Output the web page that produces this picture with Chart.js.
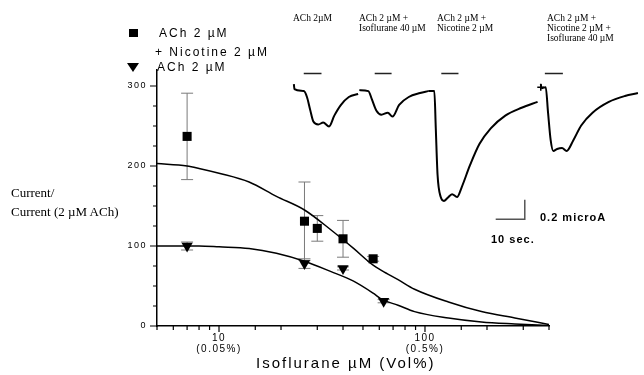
<!DOCTYPE html>
<html>
<head>
<meta charset="utf-8">
<script src="https://cdn.jsdelivr.net/npm/chart.js@4.4.1/dist/chart.umd.min.js"></script>
<style>
    body { margin: 0; background: #fff; }
    #wrap { position: relative; width: 644px; height: 375px; overflow: hidden; font-family: Arial, "Liberation Sans", sans-serif; }
    canvas { position: absolute; left: 0; top: 0; }
    #traces { left: 284px; top: 65px; }
    .lbl { position: absolute; white-space: nowrap; color: #000; }
    .serif { font-family: "Liberation Serif", "Times New Roman", serif; }
    .legend { font-size: 12px; line-height: 14px; letter-spacing: 2px; }
    .trace-lbl { font-size: 9.5px; line-height: 10px; }
    .bar-lbl { font-size: 11px; font-weight: bold; line-height: 12px; letter-spacing: 1px; }
    .sq { position: absolute; left: 129px; top: 29px; width: 9px; height: 8px; background: #000; }
    .tri { position: absolute; left: 127px; top: 63px; width: 0; height: 0;
           border-left: 6px solid transparent; border-right: 6px solid transparent; border-top: 9px solid #000; }
</style>
</head>
<body>
<div id="wrap">
    <canvas id="main" width="644" height="375"></canvas>
    <canvas id="traces" width="360" height="168"></canvas>

    <!-- legend -->
    <div class="sq"></div>
    <div class="lbl legend" style="left:159px; top:26px;">ACh 2 µM</div>
    <div class="lbl legend" style="left:155px; top:45px;">+ Nicotine 2 µM</div>
    <div class="tri"></div>
    <div class="lbl legend" style="left:157px; top:60px;">ACh 2 µM</div>

    <!-- axis titles -->
    <div class="lbl serif" style="left:11px; top:185px; font-size:13px; line-height:16px;">Current/</div>
    <div class="lbl serif" style="left:11px; top:204px; font-size:13px; line-height:16px;">Current (2 µM ACh)</div>
    <div class="lbl" style="left:256px; top:354px; font-size:15px; line-height:18px; letter-spacing:2px;">Isoflurane µM (Vol%)</div>

    <!-- trace labels -->
    <div class="lbl serif trace-lbl" style="left:293px; top:13px;">ACh 2µM</div>
    <div class="lbl serif trace-lbl" style="left:359px; top:13px;">ACh 2 µM +<br>Isoflurane 40 µM</div>
    <div class="lbl serif trace-lbl" style="left:437px; top:13px;">ACh 2 µM +<br>Nicotine 2 µM</div>
    <div class="lbl serif trace-lbl" style="left:547px; top:13px;">ACh 2 µM +<br>Nicotine 2 µM +<br>Isoflurane 40 µM</div>

    <!-- scale bar labels -->
    <div class="lbl bar-lbl" style="left:540px; top:211px;">0.2 microA</div>
    <div class="lbl bar-lbl" style="left:491px; top:233px;">10 sec.</div>
</div>

<script>
// ACh 2 µM + Nicotine 2 µM (squares)
const nicX = [7, 26, 30, 40, 56];
const nicY = [237, 131, 122, 109, 84];
const nicErr = [54, 49, 16, 23, 3];

// ACh 2 µM (triangles)
const achX = [7, 26, 40, 63];
const achY = [100, 78, 72, 31];
const achErr = [5, 6, 2, 2];

// fitted curves
const fitX = [5, 7, 8, 10, 14, 19, 26, 35, 45, 56, 62, 74, 89, 130, 188, 273, 400];
const nicFit = [203, 200, 197, 191, 180, 162, 145, 120, 97, 76, 69, 58, 46, 30, 18, 10, 2];
const achFit = [100, 100, 100, 99, 97, 91, 81, 68, 56, 41, 33, 26, 18, 10, 5, 2.5, 0.5];

// current traces: time (s) / current (microA)
const trace1T = [1.5, 1.7, 4.9, 6.0, 7.1, 8.2, 9.9, 11.6, 13.6, 15.4, 17.7, 20.4, 23.6];
const trace1I = [0.06, 0.01, -0.01, -0.07, -0.20, -0.32, -0.35, -0.33, -0.37, -0.26, -0.15, -0.07, -0.04];
const trace2T = [24.0, 27.1, 28.4, 29.9, 31.6, 33.8, 35.4, 37.7, 41.0, 44.9, 47.7];
const trace2I = [0.00, -0.01, -0.10, -0.21, -0.25, -0.23, -0.27, -0.15, -0.07, -0.03, -0.01];
const trace3T = [47.7, 49.8, 50.3, 50.9, 52.0, 53.1, 54.3, 55.9, 57.6, 59.2, 62.0, 65.3, 69.2, 74.2, 79.8, 85.3];
const trace3I = [-0.01, -0.01, -0.39, -0.86, -1.09, -1.13, -1.10, -1.06, -1.09, -0.99, -0.77, -0.55, -0.39, -0.26, -0.18, -0.12];
const trace4T = [86.4, 86.7, 88.1, 88.9, 89.8, 90.7, 92.0, 93.7, 95.3, 97.6, 100.3, 104.2, 109.8, 115.3, 119.8];
const trace4I = [0.06, 0.02, 0.03, -0.23, -0.51, -0.62, -0.60, -0.59, -0.62, -0.51, -0.36, -0.23, -0.12, -0.06, -0.03];

// drug application bars (s)
const stimStart = [4.9, 29.3, 52.2, 87.8];
const stimEnd = [11.0, 35.1, 58.1, 94.0];

// scale bar
const scaleSec = 10;
const scaleMicroA = 0.2;

const toPoints = (xs, ys) => xs.map((v, i) => ({ x: v, y: ys[i] }));

// error bars drawn through the chart's own scales
const errorBarPlugin = {
    id: 'errorBars',
    beforeDatasetsDraw(chart) {
        const { ctx, scales: { x, y } } = chart;
        ctx.save();
        ctx.strokeStyle = '#7a7a7a';
        ctx.lineWidth = 1;
        chart.data.datasets.forEach(ds => {
            if (!ds.errors) return;
            ds.data.forEach((p, i) => {
                const px = x.getPixelForValue(p.x);
                const top = y.getPixelForValue(p.y + ds.errors[i]);
                const bot = y.getPixelForValue(p.y - ds.errors[i]);
                ctx.beginPath();
                ctx.moveTo(px, top); ctx.lineTo(px, bot);
                ctx.moveTo(px - 6, top); ctx.lineTo(px + 6, top);
                ctx.moveTo(px - 6, bot); ctx.lineTo(px + 6, bot);
                ctx.stroke();
            });
        });
        ctx.restore();
    }
};

// short minor / longer major tick marks
const tickMarkPlugin = {
    id: 'tickMarks',
    beforeDraw(chart) {
        chart.ctx.letterSpacing = '1.5px';
    },
    afterDraw(chart) {
        const { ctx, chartArea, scales: { x, y } } = chart;
        ctx.save();
        ctx.strokeStyle = '#000';
        ctx.lineWidth = 1.2;
        ctx.beginPath();
        y.ticks.forEach(t => {
            if (t.value % 25) return;
            const py = y.getPixelForValue(t.value);
            const len = t.value % 100 === 0 ? 7 : 4;
            ctx.moveTo(chartArea.left - len, py);
            ctx.lineTo(chartArea.left, py);
        });
        x.ticks.forEach(t => {
            const px = x.getPixelForValue(t.value);
            const len = Number.isInteger(Math.log10(t.value)) ? 6 : 4;
            ctx.moveTo(px, chartArea.bottom);
            ctx.lineTo(px, chartArea.bottom + len);
        });
        ctx.stroke();
        ctx.restore();
    }
};

new Chart(document.getElementById('main'), {
    type: 'scatter',
    data: {
        datasets: [
            {
                data: toPoints(fitX, nicFit),
                showLine: true, pointRadius: 0,
                borderColor: '#000', borderWidth: 1.5,
                cubicInterpolationMode: 'monotone'
            },
            {
                data: toPoints(fitX, achFit),
                showLine: true, pointRadius: 0,
                borderColor: '#000', borderWidth: 1.5,
                cubicInterpolationMode: 'monotone'
            },
            {
                data: toPoints(nicX, nicY),
                errors: nicErr,
                pointStyle: 'rect', pointRadius: 6.4,
                backgroundColor: '#000', borderColor: '#000', borderWidth: 0
            },
            {
                data: toPoints(achX, achY),
                errors: achErr,
                pointStyle: 'triangle', rotation: 180, pointRadius: 6.5,
                backgroundColor: '#000', borderColor: '#000', borderWidth: 0
            }
        ]
    },
    options: {
        responsive: false,
        animation: false,
        layout: { padding: { left: 0, right: 95, top: 70, bottom: 0 } },
        plugins: { legend: { display: false }, tooltip: { enabled: false } },
        scales: {
            x: {
                type: 'logarithmic',
                min: 5,
                max: 400,
                grid: { display: false, drawTicks: false },
                border: { color: '#000', width: 1.5 },
                ticks: {
                    autoSkip: false,
                    maxRotation: 0,
                    padding: 6,
                    color: '#000',
                    font: { family: 'Arial, "Liberation Sans", sans-serif', size: 10, lineHeight: 1.15 },
                    callback: v => v === 10 ? ['10', '(0.05%)'] : v === 100 ? ['100', '(0.5%)'] : ''
                },
                afterFit: s => { s.height = 49; }
            },
            y: {
                min: 0,
                max: 320,
                grid: { display: false, drawTicks: false },
                border: { color: '#000', width: 1.5 },
                ticks: {
                    stepSize: 25,
                    padding: 10,
                    color: '#000',
                    font: { family: 'Arial, "Liberation Sans", sans-serif', size: 9 },
                    callback: v => v % 100 === 0 ? String(v) : ''
                },
                afterFit: s => { s.width = 157; }
            }
        }
    },
    plugins: [errorBarPlugin, tickMarkPlugin]
});

// inset current traces on their own time / current axes
const traceLine = (xs, ys) => ({
    data: toPoints(xs, ys),
    showLine: true, pointRadius: 0,
    borderColor: '#000', borderWidth: 2,
    cubicInterpolationMode: 'monotone',
    clip: false
});

const stimDatasets = stimStart.map((s, i) => ({
    data: [{ x: s, y: 0.17 }, { x: stimEnd[i], y: 0.17 }],
    showLine: true, pointRadius: 0,
    borderColor: '#222', borderWidth: 1.5
}));

const scaleBarX = 80.9, scaleBarY = -1.317;

new Chart(document.getElementById('traces'), {
    type: 'scatter',
    data: {
        datasets: [
            traceLine(trace1T, trace1I),
            traceLine(trace2T, trace2I),
            traceLine(trace3T, trace3I),
            traceLine(trace4T, trace4I),
            {
                data: [{ x: trace4T[0], y: 0.03 }],
                pointStyle: 'cross', pointRadius: 3.5,
                borderColor: '#000', borderWidth: 1.5
            },
            ...stimDatasets,
            {
                data: [
                    { x: scaleBarX - scaleSec, y: scaleBarY },
                    { x: scaleBarX, y: scaleBarY },
                    { x: scaleBarX, y: scaleBarY + scaleMicroA }
                ],
                showLine: true, pointRadius: 0,
                borderColor: '#555', borderWidth: 1.5
            }
        ]
    },
    options: {
        responsive: false,
        animation: false,
        layout: { padding: 0 },
        plugins: { legend: { display: false }, tooltip: { enabled: false } },
        scales: {
            x: { type: 'linear', min: 0, max: 120, display: false },
            y: { type: 'linear', min: -1.4, max: 0.2, display: false }
        }
    }
});
</script>
</body>
</html>
